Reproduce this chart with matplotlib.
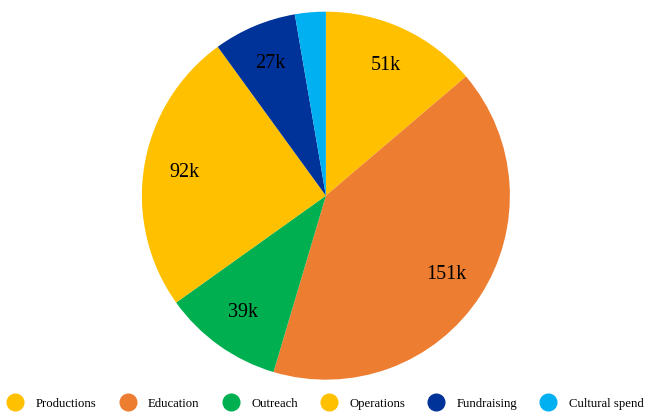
import matplotlib.pyplot as plt
from matplotlib.lines import Line2D

plt.rcParams['font.family'] = ['Liberation Serif', 'DejaVu Serif']

# 支出類別與金額（千）
categories = ['Productions', 'Education', 'Outreach', 'Operations', 'Fundraising', 'Cultural spend']
values = [51, 151, 39, 92, 27, 10]
labels = ['51k', '151k', '39k', '92k', '27k', '']
colors = ['#FFC000', '#ED7D31', '#00B050', '#FFC000', '#003399', '#00B0F0']

fig = plt.figure(figsize=(6.45, 4.15), dpi=100)
ax = fig.add_axes([0.220, 0.085, 0.5705, 0.887])

wedges, texts = ax.pie(values, labels=labels, colors=colors, startangle=90,
                       counterclock=False, labeldistance=0.78,
                       textprops={'fontsize': 14.5, 'ha': 'center', 'va': 'center'})
ax.set_xlim(-1, 1)
ax.set_ylim(-1, 1)
ax.set_aspect('equal')

# 圖例：圓形標記橫向排列
handles = [Line2D([], [], marker='o', linestyle='', markersize=12,
                  markerfacecolor=c, markeredgecolor=c) for c in colors]
fig.legend(handles, categories, loc='center', bbox_to_anchor=(0.506, 0.027),
           ncol=6, frameon=False, fontsize=9.2, handletextpad=1.1,
           columnspacing=1.93, handlelength=1.0, borderpad=0)

plt.savefig('out.png', dpi=100)
